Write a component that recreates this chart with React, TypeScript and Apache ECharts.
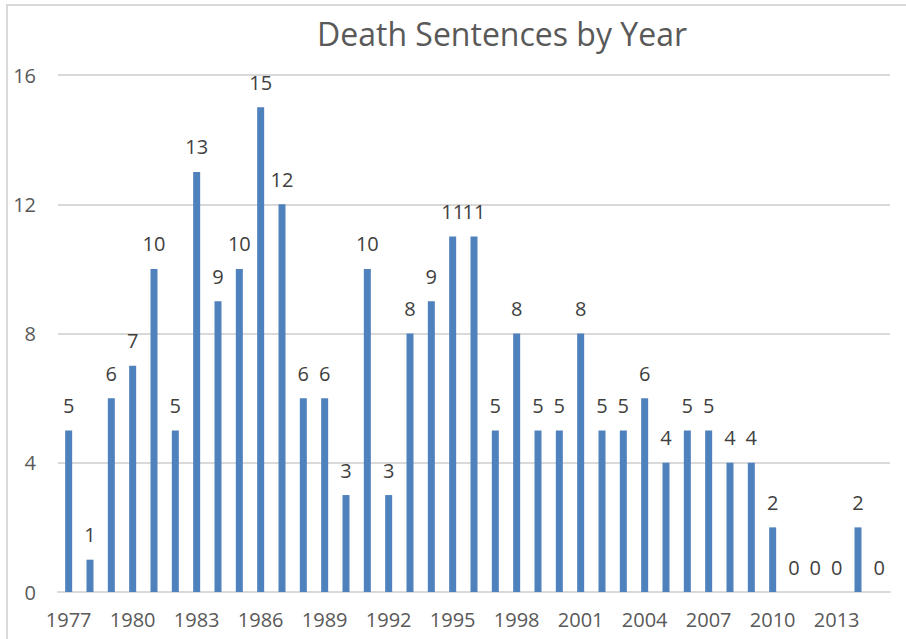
import React, { useEffect, useRef } from "react";
import * as echarts from "echarts";

const years: string[] = [
  "1977","1978","1979","1980","1981","1982","1983","1984","1985","1986",
  "1987","1988","1989","1990","1991","1992","1993","1994","1995","1996",
  "1997","1998","1999","2000","2001","2002","2003","2004","2005","2006",
  "2007","2008","2009","2010","2011","2012","2013","2014","2015",
];
const sentences: number[] = [
  5,1,6,7,10,5,13,9,10,15,
  12,6,6,3,10,3,8,9,11,11,
  5,8,5,5,8,5,5,6,4,5,
  5,4,4,2,0,0,0,2,0,
];
const yTicks = { min: 0, max: 16, interval: 4 };
const title = "Death Sentences by Year";

const FONT = "'Open Sans', 'Noto Sans', sans-serif";

export default function App() {
  const ref = useRef<HTMLDivElement>(null);
  useEffect(() => {
    if (!ref.current) return;
    const chart = echarts.init(ref.current, null, { renderer: "svg" });
    chart.setOption({
      animation: false,
      backgroundColor: "#ffffff",
      title: {
        text: title,
        left: 497,
        textAlign: "center",
        top: 12,
        textStyle: { fontFamily: FONT, fontSize: 32, fontWeight: "normal", color: "#595959" },
      },
      graphic: [
        {
          type: "rect",
          shape: { x: 7, y: 5, width: 920, height: 660 },
          style: { fill: "none", stroke: "#d9d9d9", lineWidth: 2 },
          silent: true,
        },
      ],
      grid: { left: 58, right: 16, top: 75, bottom: 47, containLabel: false },
      xAxis: {
        type: "category",
        data: years,
        axisLine: { show: true, lineStyle: { color: "#d9d9d9", width: 2 } },
        axisTick: { show: false },
        axisLabel: {
          interval: 2,
          margin: 17,
          fontFamily: FONT,
          fontSize: 20,
          color: "#595959",
        },
      },
      yAxis: {
        type: "value",
        min: yTicks.min,
        max: yTicks.max,
        interval: yTicks.interval,
        axisLine: { show: false },
        axisTick: { show: false },
        splitLine: { lineStyle: { color: "#d9d9d9", width: 2 } },
        axisLabel: { margin: 22, fontFamily: FONT, fontSize: 20, color: "#595959" },
      },
      series: [
        {
          type: "bar",
          data: sentences,
          barWidth: 7,
          itemStyle: { color: "#4f81bd" },
          label: {
            show: true,
            position: "top",
            distance: 15,
            fontFamily: FONT,
            fontSize: 20,
            color: "#404040",
          },
        },
      ],
    });
    return () => chart.dispose();
  }, []);
  return (
    <div
      ref={ref}
      style={{ position: "absolute", left: 0, top: 0, width: 906, height: 639 }}
    />
  );
}
